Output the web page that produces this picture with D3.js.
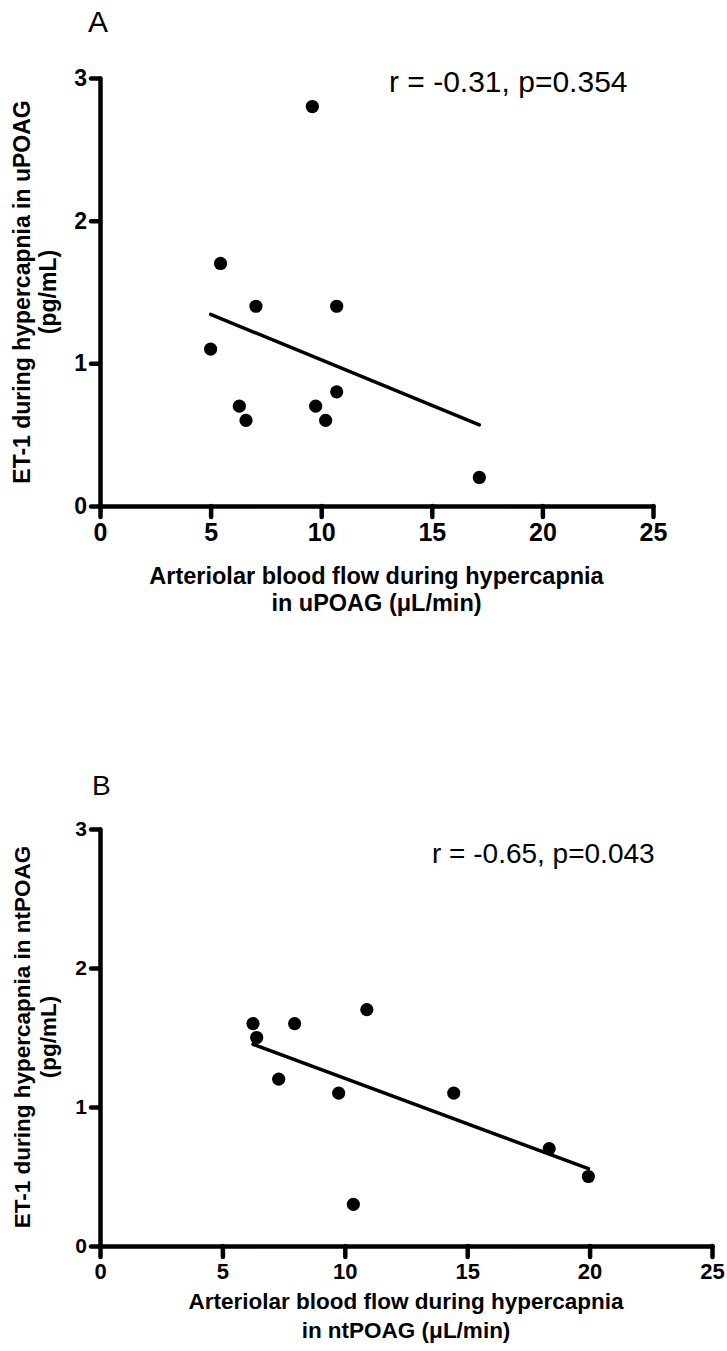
<!DOCTYPE html>
<html>
<head>
<meta charset="utf-8">
<script src="https://cdn.jsdelivr.net/npm/d3@7"></script>
<style>
  html, body { margin: 0; padding: 0; background: #fff; }
  svg { display: block; }
</style>
</head>
<body>
<script>
// ---- Data ----
const xTicks = [0, 5, 10, 15, 20, 25];
const yTicks = [0, 1, 2, 3];

const topFlow = [9.6, 5.45, 7.05, 10.7, 5.0, 6.3, 6.6, 9.75, 10.2, 10.7, 17.15];
const topET1  = [2.8, 1.7, 1.4, 1.4, 1.1, 0.7, 0.6, 0.7, 0.6, 0.8, 0.2];

const botFlow = [6.25, 6.4, 7.95, 10.9, 7.3, 9.75, 14.45, 18.35, 19.95, 10.35];
const botET1  = [1.6, 1.5, 1.6, 1.7, 1.2, 1.1, 1.1, 0.7, 0.5, 0.3];

const panelLabels = ["A", "B"];
const statTexts = ["r = -0.31, p=0.354", "r = -0.65, p=0.043"];
const yTitles = [["ET-1 during hypercapnia in uPOAG", "(pg/mL)"],
                 ["ET-1 during hypercapnia in ntPOAG", "(pg/mL)"]];
const xTitles = [["Arteriolar blood flow during hypercapnia", "in uPOAG (\u03bcL/min)"],
                 ["Arteriolar blood flow during hypercapnia", "in ntPOAG (\u03bcL/min)"]];

// ---- Layout ----
const W = 727, H = 1351;
const svg = d3.select("body").append("svg").attr("width", W).attr("height", H);

const panels = [
  { xs: topFlow, ys: topET1, x0: 100, x1: 653, y0: 506, y1: 78,
    label: { x: 88, y: 32, size: 30 },
    stat: { x: 389, y: 92, size: 30 },
    yTitle: { cy: 292, x1: 30, x2: 56, size: 23 },
    xTitle: { y1: 584, y2: 611, size: 23.5 },
    tickFont: { x: 25, y: 23 } },
  { xs: botFlow, ys: botET1, x0: 100, x1: 712, y0: 1246, y1: 829,
    label: { x: 92, y: 795, size: 28 },
    stat: { x: 432, y: 863, size: 28 },
    yTitle: { cy: 1037, x1: 30, x2: 56, size: 22.5 },
    xTitle: { y1: 1309, y2: 1338, size: 22.5 },
    tickFont: { x: 22, y: 21 } }
];

function linreg(xs, ys) {
  const mx = d3.mean(xs), my = d3.mean(ys);
  let sxy = 0, sxx = 0;
  xs.forEach((x, i) => { sxy += (x - mx) * (ys[i] - my); sxx += (x - mx) * (x - mx); });
  const b = sxy / sxx;
  return { b, a: my - b * mx };
}

panels.forEach((p, pi) => {
  const x = d3.scaleLinear().domain([0, 25]).range([p.x0, p.x1]);
  const y = d3.scaleLinear().domain([0, 3]).range([p.y0, p.y1]);
  const g = svg.append("g");

  // Axes
  const yAxis = d3.axisLeft(y).tickValues(yTicks).tickSize(9).tickSizeOuter(0).tickPadding(4)
    .tickFormat(d3.format("d"));
  const xAxis = d3.axisBottom(x).tickValues(xTicks).tickSize(11).tickSizeOuter(0).tickPadding(6)
    .tickFormat(d3.format("d"));

  const gy = g.append("g").attr("transform", `translate(${p.x0},0)`).call(yAxis);
  const gx = g.append("g").attr("transform", `translate(0,${p.y0})`).call(xAxis);

  [gx, gy].forEach(a => {
    a.selectAll("path.domain, .tick line")
      .attr("stroke", "#000").attr("stroke-width", 4.5)
      .attr("stroke-linecap", "round").attr("stroke-linejoin", "round");
    a.selectAll("text")
      .attr("fill", "#000")
      .style("font-family", "'Liberation Sans Narrow', 'Arial Narrow', 'Liberation Sans', sans-serif")
      .style("font-weight", "bold");
  });
  gx.selectAll("text").style("font-size", p.tickFont.x + "px");
  gy.selectAll("text").style("font-size", p.tickFont.y + "px");

  // Regression line
  const r = linreg(p.xs, p.ys);
  const ext = d3.extent(p.xs);
  g.append("line")
    .attr("x1", x(ext[0])).attr("y1", y(r.a + r.b * ext[0]))
    .attr("x2", x(ext[1])).attr("y2", y(r.a + r.b * ext[1]))
    .attr("stroke", "#000").attr("stroke-width", 3.5).attr("stroke-linecap", "round");

  // Points
  g.selectAll("circle.pt").data(p.xs.map((v, i) => [v, p.ys[i]])).join("circle")
    .attr("class", "pt")
    .attr("cx", d => x(d[0])).attr("cy", d => y(d[1])).attr("r", 6.6)
    .attr("fill", "#000");

  // Panel label
  g.append("text").attr("x", p.label.x).attr("y", p.label.y)
    .style("font-family", "'Liberation Sans', Arial, sans-serif")
    .style("font-size", p.label.size + "px").text(panelLabels[pi]);

  // Stat text
  g.append("text").attr("x", p.stat.x).attr("y", p.stat.y)
    .style("font-family", "'Liberation Sans', Arial, sans-serif")
    .style("font-size", p.stat.size + "px").text(statTexts[pi]);

  // Y title
  const yt = g.append("g").attr("transform", `rotate(-90)`);
  yt.append("text").attr("x", -p.yTitle.cy).attr("y", p.yTitle.x1)
    .attr("text-anchor", "middle")
    .style("font-family", "'Liberation Sans', Arial, sans-serif").style("font-weight", "bold")
    .style("font-size", p.yTitle.size + "px").text(yTitles[pi][0]);
  yt.append("text").attr("x", -p.yTitle.cy).attr("y", p.yTitle.x2)
    .attr("text-anchor", "middle")
    .style("font-family", "'Liberation Sans', Arial, sans-serif").style("font-weight", "bold")
    .style("font-size", p.yTitle.size + "px").text(yTitles[pi][1]);

  // X title
  const cx = (p.x0 + p.x1) / 2;
  [p.xTitle.y1, p.xTitle.y2].forEach((yy, li) => {
    g.append("text").attr("x", cx).attr("y", yy).attr("text-anchor", "middle")
      .style("font-family", "'Liberation Sans', Arial, sans-serif").style("font-weight", "bold")
      .style("font-size", p.xTitle.size + "px").text(xTitles[pi][li]);
  });
});
</script>
</body>
</html>
